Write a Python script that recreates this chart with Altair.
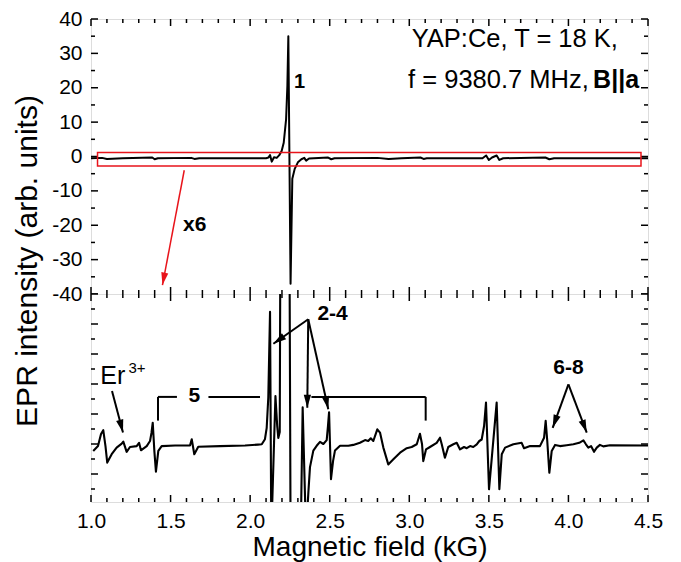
import math
import altair as alt
import pandas as pd

FONT = "Liberation Sans"

# ---------------- data ----------------
# top panel: full spectrum (arb. units)
top_field = [1.00, 1.07, 1.10, 1.20, 1.385, 1.40, 1.42, 1.63, 1.65, 1.68, 2.10, 2.115,
             2.125, 2.136, 2.15, 2.167, 2.183, 2.198, 2.211, 2.226, 2.234, 2.240, 2.254,
             2.265, 2.28, 2.30, 2.322, 2.34, 2.352, 2.37, 2.40, 2.49, 2.51, 2.53, 2.80,
             2.87, 2.95, 3.07, 3.09, 3.11, 3.46, 3.483, 3.50, 3.52, 3.549, 3.566, 3.59,
             3.855, 3.88, 3.91, 4.50]
top_signal = [-0.5, -0.4, -0.7, -0.5, -0.3, -0.8, -0.5, -0.4, -0.7, -0.5, -0.5, -0.3,
              0.4, -1.5, -0.2, -0.4, 0.4, 1.6, 4.0, 10.9, 20.6, 35.0, -37.0,
              -6.5, -3.6, -1.7, -0.8, -0.4, -1.2, -0.6, -0.5, -0.3, -0.8, -0.5, -0.4,
              -0.7, -0.5, -0.3, -0.7, -0.5, -0.5, 0.3, -1.0, -0.3, 0.3, -1.0, -0.5,
              -0.3, -0.8, -0.5, -0.5]

# bottom panel: x6 magnified trace (display units)
bot_field = [1.014, 1.044, 1.063, 1.077, 1.091, 1.102, 1.130, 1.161, 1.193, 1.203, 1.224,
             1.245, 1.287, 1.302, 1.314, 1.350, 1.371, 1.380, 1.388, 1.398, 1.408, 1.423,
             1.444, 1.528, 1.622, 1.633, 1.649, 1.674, 1.811, 1.968, 2.049, 2.073, 2.093,
             2.104, 2.114, 2.125, 2.133, 2.159, 2.170, 2.177, 2.186, 2.190, 2.247, 2.254,
             2.318, 2.330, 2.351, 2.366, 2.376, 2.397, 2.418, 2.439, 2.460, 2.481, 2.489,
             2.496, 2.508, 2.521, 2.533, 2.565, 2.617, 2.648, 2.690, 2.722, 2.742, 2.758,
             2.774, 2.799, 2.816, 2.837, 2.868, 2.900, 2.942, 2.984, 3.015, 3.047, 3.067,
             3.080, 3.088, 3.105, 3.130, 3.172, 3.193, 3.204, 3.224, 3.245, 3.277, 3.298,
             3.319, 3.344, 3.361, 3.382, 3.402, 3.424, 3.440, 3.455, 3.470, 3.482, 3.501,
             3.549, 3.566, 3.581, 3.602, 3.654, 3.706, 3.721, 3.759, 3.821, 3.847, 3.857,
             3.867, 3.880, 3.895, 3.916, 3.947, 3.989, 4.031, 4.068, 4.094, 4.110, 4.125,
             4.142, 4.161, 4.178, 4.198, 4.219, 4.261, 4.500]
bot_signal = [-0.23, -0.07, 0.33, 0.46, -0.07, -0.62, -0.34, -0.12, 0.01, 0.08, -0.26,
              -0.10, -0.07, 0.04, -0.21, -0.07, 0.10, 0.37, 0.71, -0.23, -0.92, -0.23,
              -0.07, -0.05, -0.05, 0.16, -0.34, -0.09, -0.07, -0.05, -0.02, -0.01, 0.16,
              0.54, 1.54, 4.41, -3.0, 1.60, 0.60, 0.20, 0.40, 7.0, 7.0, -3.0,
              -3.0, 1.22, -3.0, -1.6, -0.77, -0.22, -0.06, 0.07, 0.0, 0.13, 0.60,
              1.06, -1.17, -0.57, -0.22, -0.06, -0.06, -0.03, 0.04, 0.13, 0.10, 0.19,
              0.10, 0.49, 0.38, -0.12, -0.68, -0.51, -0.29, -0.14, -0.10, -0.01, 0.34,
              0.00, -0.57, -0.18, -0.10, 0.04, 0.21, -0.01, -0.46, -0.10, -0.01, 0.04,
              -0.18, -0.10, -0.14, -0.07, -0.10, -0.01, 0.10, 0.15, 0.60, 1.38, -1.51,
              1.38, -1.51, -0.34, -0.12, -0.01, 0.04, -0.14, -0.07, -0.07, 0.21, 0.77,
              0.10, -0.96, -0.23, -0.03, -0.07, -0.04, -0.01, 0.04, 0.12, -0.01, -0.12,
              -0.07, -0.26, -0.12, -0.03, -0.08, -0.04, -0.05]

x_tick_labels = [1.0, 1.5, 2.0, 2.5, 3.0, 3.5, 4.0, 4.5]
x_minor_ticks = [round(1.0 + 0.1 * i, 1) for i in range(36) if i % 5]
top_y_labels = [-40, -30, -20, -10, 0, 10, 20, 30, 40]
top_y_minor = [-35, -25, -15, -5, 5, 15, 25, 35]
bot_y_major = [-1, 0, 1, 2, 3, 4, 5]
bot_y_minor = [-1.5, -0.5, 0.5, 1.5, 2.5, 3.5, 4.5]

# annotations
top_texts = pd.DataFrame({
    "x": [3.015, 2.31, 1.578],
    "y": [31.9, 21.6, -19.9],
    "label": ["YAP:Ce, T = 18 K,", "1", "x6"],
})
box = pd.DataFrame({"x": [1.041], "x2": [4.456], "y": [-2.76], "y2": [1.16]})
red_arrow = pd.DataFrame({"x": [1.586], "y": [-4.0], "x2": [1.449], "y2": [-37.4]})

bracket = pd.DataFrame({
    "x": [1.421, 1.421, 1.738, 2.385, 3.103],
    "y": [0.78, 1.57, 1.57, 1.57, 1.57],
    "x2": [1.421, 1.540, 2.062, 3.103, 3.103],
    "y2": [1.57, 1.57, 1.57, 1.57, 0.78],
})
bot_arrows = pd.DataFrame({
    "x": [1.132, 2.365, 2.365, 2.365, 4.0, 4.0],
    "y": [1.77, 4.16, 4.16, 4.16, 1.99, 1.99],
    "x2": [1.201, 2.146, 2.359, 2.491, 3.901, 4.115],
    "y2": [0.38, 3.34, 1.21, 1.16, 0.54, 0.38],
})
bot_bold = pd.DataFrame({"x": [1.649, 2.518, 4.0], "y": [1.6, 4.32, 2.54],
                         "label": ["5", "2-4", "6-8"]})

# ---------------- geometry ----------------
W, H_TOP, H_BOT = 557, 275, 208
xs = alt.Scale(domain=[1.0, 4.5], nice=False, zero=False)
ys_top = alt.Scale(domain=[-40, 40], nice=False, zero=False)
ys_bot = alt.Scale(domain=[-1.9333, 5.0], nice=False, zero=False)
PX_X = W / 3.5
PX_TOP = H_TOP / 80.0
PX_BOT = H_BOT / 6.9333

HEAD = "M0,0L-0.62,2.2L0.62,2.2Z"


def with_angle(df, py):
    out = df.copy()
    ang = []
    for _, r in out.iterrows():
        dx = (r["x2"] - r["x"]) * PX_X
        dy = -(r["y2"] - r["y"]) * py
        ang.append(math.degrees(math.atan2(dx, -dy)) % 360)
    out["angle"] = ang
    return out


Y_AX_TOP = alt.Axis(values=top_y_labels, labelExpr="'' + datum.value", ticks=False,
                    domain=False, grid=False, labelFont=FONT, labelFontSize=21,
                    labelColor="black", labelPadding=9,
                    title="EPR intensity (arb. units)", titleFont=FONT, titleFontSize=30,
                    titleFontWeight="normal", titleColor="black", titleX=-79, titleY=241.5,
                    titleBaseline="top", titleAngle=270, titleAlign="center")
X_AX_BOT = alt.Axis(values=x_tick_labels, format=".1f", ticks=False, domain=False,
                    grid=False, labelFont=FONT, labelFontSize=21, labelColor="black",
                    labelPadding=8, labelFlush=False, title="Magnetic field (kG)",
                    titleFont=FONT, titleFontSize=28, titleFontWeight="normal",
                    titleColor="black", titlePadding=2)


def xenc(ax, field="x"):
    return alt.X(f"{field}:Q", scale=xs, axis=ax)


def tick_layers(xax, yscale, yax, h, ymaj, ymin):
    layers = []
    for vals, ln in ((x_tick_labels, 7), (x_minor_ticks, 4)):
        d = pd.DataFrame({"x": vals})
        layers.append(alt.Chart(d).mark_rule(color="black", strokeWidth=1.5).encode(
            x=xenc(xax), y=alt.value(h), y2=alt.value(h - ln)))
        layers.append(alt.Chart(d).mark_rule(color="black", strokeWidth=1.5).encode(
            x=xenc(xax), y=alt.value(0), y2=alt.value(ln)))
    for vals, ln in ((ymaj, 7), (ymin, 4)):
        d = pd.DataFrame({"y": vals})
        layers.append(alt.Chart(d).mark_rule(color="black", strokeWidth=1.5).encode(
            y=alt.Y("y:Q", scale=yscale, axis=yax), x=alt.value(0), x2=alt.value(ln)))
        layers.append(alt.Chart(d).mark_rule(color="black", strokeWidth=1.5).encode(
            y=alt.Y("y:Q", scale=yscale, axis=yax), x=alt.value(W), x2=alt.value(W - ln)))
    return layers


# ---------------- top panel ----------------
top_df = pd.DataFrame({"x": top_field, "y": top_signal})
ytop = lambda f="y": alt.Y(f"{f}:Q", scale=ys_top, axis=Y_AX_TOP)

top_line = alt.Chart(top_df).mark_line(color="black", strokeWidth=2, clip=True,
                                      strokeJoin="round").encode(x=xenc(None), y=ytop())
top_box = alt.Chart(box).mark_rect(fill=None, stroke="#e8141b", strokeWidth=1.5).encode(
    x=xenc(None), x2="x2:Q", y=ytop(), y2="y2:Q")
red_line = alt.Chart(red_arrow).mark_rule(color="#e8141b", strokeWidth=1.5).encode(
    x=xenc(None), x2="x2:Q", y=ytop(), y2="y2:Q")
red_head = alt.Chart(with_angle(red_arrow, PX_TOP)).mark_point(
    shape=HEAD, filled=True, color="#e8141b", opacity=1, size=130).encode(
    x=xenc(None, "x2"), y=ytop("y2"), angle=alt.Angle("angle:Q", scale=None))

t1 = alt.Chart(top_texts.iloc[[0]]).mark_text(
    font=FONT, fontSize=25.5, align="left", baseline="alphabetic", color="black").encode(
    x=xenc(None), y=ytop(), text="label:N")
line2 = pd.DataFrame({"x": [4.128], "y": [19.8], "label": ["f = 9380.7 MHz,"]})
t2 = alt.Chart(line2).mark_text(
    font=FONT, fontSize=25.5, align="right", baseline="alphabetic", color="black").encode(
    x=xenc(None), y=ytop(), text="label:N")
line2b = pd.DataFrame({"x": [4.155], "y": [19.8], "label": ["B||a"]})
t3 = alt.Chart(line2b).mark_text(
    font=FONT, fontSize=25, fontWeight="bold", align="left", baseline="alphabetic",
    color="black").encode(x=xenc(None), y=ytop(), text="label:N")
t4 = alt.Chart(top_texts.iloc[[1]]).mark_text(
    font=FONT, fontSize=20, fontWeight="bold", align="center", baseline="middle",
    color="black").encode(x=xenc(None), y=ytop(), text="label:N")
t5 = alt.Chart(top_texts.iloc[[2]]).mark_text(
    font=FONT, fontSize=21, fontWeight="bold", align="left", baseline="middle",
    color="black").encode(x=xenc(None), y=ytop(), text="label:N")

top = alt.layer(
    *tick_layers(None, ys_top, Y_AX_TOP, H_TOP, top_y_labels, top_y_minor),
    top_line, top_box, red_line, red_head, t1, t2, t3, t4, t5,
).properties(width=W, height=H_TOP)

# ---------------- bottom panel ----------------
bot_df = pd.DataFrame({"x": bot_field, "y": bot_signal})
ybot = lambda f="y": alt.Y(f"{f}:Q", scale=ys_bot, axis=None)

bot_line = alt.Chart(bot_df).mark_line(color="black", strokeWidth=2.1, clip=True,
                                      strokeJoin="round").encode(x=xenc(X_AX_BOT), y=ybot())
br = alt.Chart(bracket).mark_rule(color="black", strokeWidth=2).encode(
    x=xenc(X_AX_BOT), x2="x2:Q", y=ybot(), y2="y2:Q")
arr = alt.Chart(bot_arrows).mark_rule(color="black", strokeWidth=2).encode(
    x=xenc(X_AX_BOT), x2="x2:Q", y=ybot(), y2="y2:Q")
heads = alt.Chart(with_angle(bot_arrows, PX_BOT)).mark_point(
    shape=HEAD, filled=True, color="black", opacity=1, size=140).encode(
    x=xenc(X_AX_BOT, "x2"), y=ybot("y2"), angle=alt.Angle("angle:Q", scale=None))
bold_txt = alt.Chart(bot_bold).mark_text(
    font=FONT, fontSize=21, fontWeight="bold", align="center", baseline="middle",
    color="black").encode(x=xenc(X_AX_BOT), y=ybot(), text="label:N")
er = pd.DataFrame({"x": [1.058], "y": [1.99], "label": ["Er"]})
er_t = alt.Chart(er).mark_text(font=FONT, fontSize=25, align="left", baseline="alphabetic",
                               color="black").encode(x=xenc(X_AX_BOT), y=ybot(), text="label:N")
sup = pd.DataFrame({"x": [1.235], "y": [2.37], "label": ["3+"]})
sup_t = alt.Chart(sup).mark_text(font=FONT, fontSize=15, align="left", baseline="alphabetic",
                                 color="black").encode(x=xenc(X_AX_BOT), y=ybot(), text="label:N")

bottom = alt.layer(
    *tick_layers(X_AX_BOT, ys_bot, None, H_BOT, bot_y_major, bot_y_minor),
    bot_line, br, arr, heads, bold_txt, er_t, sup_t,
).properties(width=W, height=H_BOT)

chart = alt.vconcat(top, bottom, spacing=0, bounds="flush").properties(
    padding={"left": 11, "top": 7, "right": 5, "bottom": 0}
).configure_view(stroke="black", strokeWidth=2).configure(background="white")

chart.save("out.html", embed_options={"renderer": "svg", "actions": False})
